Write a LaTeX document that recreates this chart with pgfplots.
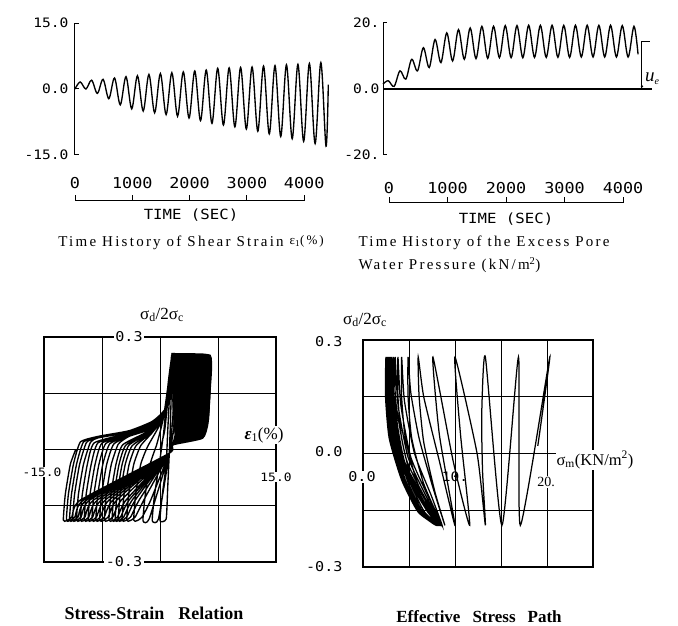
\documentclass[border=0pt]{standalone}
\usepackage{fontspec}
\setmainfont{Liberation Serif}
\newfontfamily\plotfont[FakeStretch=1.12]{DejaVu Sans Mono}
\newfontfamily\capfont[LetterSpace=15]{Liberation Serif}
\usepackage{pgfplots}
\pgfplotsset{compat=1.18}
\begin{document}
\begin{tikzpicture}
\useasboundingbox (0,0) rectangle (678pt,-626pt);

% ---------------- Panel 1: shear strain time history
\begin{axis}[at={(75pt,-23pt)}, anchor=north west, scale only axis,
  width=253.3pt, height=132pt, xmin=0, xmax=4420, ymin=-15, ymax=15,
  axis x line=none, axis y line=left, axis line style={-, line width=1pt},
  ytick={-15,0,15}, yticklabels={-15.0,0.0,15.0}, tick align=inside,
  major tick length=4pt, tick style={line width=1pt, black},
  yticklabel style={font=\plotfont\fontsize{13}{13}\selectfont, xshift=-3pt},
  clip=false]
\addplot[black, line width=1.35pt, smooth, tension=0.55] coordinates {
(0,0)(90,1.6)(190,0.0)(290,2.0)(390,-1.0)(490,2.2)(590,-2.2)(690,2.5)(790,-3.6)
(890,2.8)(990,-4.5)(1090,3.0)(1190,-5.0)(1290,3.3)(1390,-5.4)(1490,3.5)(1590,-5.8)
(1690,3.7)(1790,-6.2)(1890,3.9)(1990,-6.6)(2090,4.1)(2190,-7.2)(2290,4.3)(2390,-7.8)
(2490,4.7)(2590,-8.2)(2690,4.8)(2790,-8.6)(2890,4.9)(2990,-9.1)(3090,5.0)(3190,-9.6)
(3290,5.2)(3390,-10.2)(3490,5.3)(3590,-10.8)(3690,5.5)(3790,-11.3)(3890,5.6)(3990,-11.9)
(4090,5.8)(4190,-12.4)(4290,6.0)(4380,-13.0)(4420,1.0)};
\end{axis}

% ---------------- Panel 2: excess pore water pressure
\begin{axis}[at={(383pt,-23pt)}, anchor=north west, scale only axis,
  width=269.1pt, height=132pt, xmin=0, xmax=4600, ymin=-20, ymax=20,
  axis x line=none, axis y line=left, axis line style={-, line width=1pt},
  ytick={-20,0,20}, yticklabels={-20.,0.0,20.}, tick align=inside,
  major tick length=4pt, tick style={line width=1pt, black},
  yticklabel style={font=\plotfont\fontsize{13}{13}\selectfont},
  clip=false]
\addplot[black, line width=1.35pt, smooth, tension=0.55] coordinates {
(0,1.5)(90,2.5)(190,0.8)(290,5.5)(390,3.0)(490,9.0)(590,5.5)(690,12.5)(790,6.5)
(890,15.0)(990,8.0)(1090,17.0)(1190,8.5)(1290,18.0)(1390,9.0)(1490,18.5)(1590,9.2)
(1690,19.0)(1790,9.3)(1890,19.0)(1990,9.5)(2090,19.2)(2190,9.5)(2290,19.2)(2390,9.5)
(2490,19.3)(2590,9.6)(2690,19.3)(2790,9.6)(2890,19.3)(2990,9.6)(3090,19.3)(3190,9.6)
(3290,19.3)(3390,9.7)(3490,19.3)(3590,9.7)(3690,19.3)(3790,9.7)(3890,19.3)(3990,9.7)
(4090,19.2)(4190,9.7)(4290,19.0)(4360,10.5)};
\addplot[black, line width=1.1pt] coordinates {(0,0)(4600,0)};
\draw[line width=1pt] (axis cs:4427,0) -- (axis cs:4427,14.3) -- (axis cs:4564,14.3);
\fill (axis cs:4427,0.8) circle (1.3pt);
\end{axis}

% time scales (axis decorations)
\draw[line width=1pt] (75pt,-195pt) -- (75pt,-200pt) -- (304.2pt,-200pt) -- (304.2pt,-195pt);
\foreach \x in {132.3,189.6,246.9} \draw[line width=1pt] (\x pt,-200pt) -- (\x pt,-195pt);
\foreach \x/\l in {75/0,132.3/1000,189.6/2000,246.9/3000,304.2/4000}
  \node[font=\plotfont\fontsize{15}{15}\selectfont] at (\x pt,-183pt) {\l};
\draw[line width=1pt] (389pt,-197pt) -- (389pt,-202pt) -- (623pt,-202pt) -- (623pt,-197pt);
\foreach \x in {447.5,506,564.5} \draw[line width=1pt] (\x pt,-202pt) -- (\x pt,-197pt);
\foreach \x/\l in {389/0,447.5/1000,506/2000,564.5/3000,623/4000}
  \node[font=\plotfont\fontsize{15}{15}\selectfont] at (\x pt,-188pt) {\l};
\node[font=\plotfont\fontsize{14}{14}\selectfont] at (191pt,-215pt) {TIME (SEC)};
\node[font=\plotfont\fontsize{14}{14}\selectfont] at (506pt,-219pt) {TIME (SEC)};
\node[anchor=west, inner sep=0pt] at (645pt,-79pt) {\fontsize{19}{19}\selectfont\itshape u\raisebox{-3pt}{\fontsize{10}{10}\selectfont e}};

% captions top
\node[font=\capfont\fontsize{15}{15}\selectfont] at (191pt,-243pt)
  {Time History of Shear Strain \raisebox{2pt}{\fontsize{13}{13}\selectfont ε\textsubscript{1}(\%)}};
\node[font=\capfont\fontsize{15}{15}\selectfont, anchor=west] at (355pt,-243pt)
  {Time History of the Excess Pore};
\node[font=\capfont\fontsize{15}{15}\selectfont, anchor=west] at (355pt,-265pt)
  {Water Pressure  (kN/m\textsuperscript{2})};

% ---------------- Panel 3: stress-strain relation
\begin{axis}[at={(44pt,-337pt)}, anchor=north west, scale only axis,
  width=232pt, height=225pt, xmin=-15, xmax=15, ymin=-0.3, ymax=0.3,
  xtick={-7.5,0,7.5}, ytick={-0.15,0,0.15}, xticklabel=\empty, yticklabel=\empty,
  major tick length=0pt, grid=major, grid style={black, line width=0.75pt},
  axis line style={line width=1.4pt}, clip=false]
% dark core of the upper loops
\addplot[fill=black, draw=black, line width=0.6pt] coordinates {
(1.5,0.257)(6.5,0.252)(6.5,0.15)(6.3,0.08)(5.7,0.045)(4.5,0.03)(3.0,0.024)(2.1,0.024)
(1.75,0.06)(1.6,0.14)(1.5,0.2)} --cycle;
\addplot[black, line width=1.35pt, smooth, tension=0.3] coordinates {
(0,0)(0.6,0.05)(1.1,0.15)(1.5,0.25)
(1.45,0.15)(1.35,0.07)(1.2,-0.01)(1.0,-0.1)(0.8,-0.185)(0.0,-0.19)
(0.3,-0.12)(0.8,-0.04)(1.0,0.05)(1.3,0.17)(1.5,0.25)(1.9,0.25)
(1.85,0.15)(1.6,0.07)(1.2,-0.01)(-0.2,-0.185)(-1.0,-0.19)
(-0.7,-0.12)(-0.1,-0.04)(0.5,0.05)(1.05,0.175)(1.55,0.25)(2.2,0.25)
(2.15,0.15)(1.9,0.07)(1.5,0.02)(1.2,-0.01)(-1.4,-0.185)(-2.2,-0.19)
(-1.9,-0.12)(-1.3,-0.04)(-0.4,0.015)(0.44,0.084)(1.06,0.174)(1.57,0.25)(2.6,0.25)
(2.55,0.15)(2.3,0.07)(1.8,0.025)(1.2,-0.01)(-1.2,-0.135)(-2.3,-0.18)(-3.0,-0.19)(-3.4,-0.188)
(-3.15,-0.12)(-2.5,-0.04)(-1.6,0.008)(0.46,0.086)(1.08,0.176)(1.6,0.25)(3.0,0.25)
(2.95,0.15)(2.7,0.07)(2.0,0.03)(1.2,-0.01)(-2.1,-0.135)(-3.2,-0.18)(-3.9,-0.19)(-4.3,-0.188)
(-4.05,-0.12)(-3.4,-0.04)(-2.5,0.01)(-1.0,0.045)(0.47,0.087)(1.1,0.177)(1.62,0.25)(3.3,0.25)
(3.25,0.15)(3.0,0.07)(2.3,0.03)(1.6,0.012)(1.2,-0.01)(-2.7,-0.135)(-3.8,-0.18)(-4.5,-0.19)(-4.9,-0.188)
(-4.65,-0.12)(-4.0,-0.04)(-3.1,0.01)(-1,0.047)(0.49,0.089)(1.12,0.179)(1.65,0.25)(3.6,0.25)
(3.55,0.15)(3.3,0.07)(2.6,0.03)(1.6,0.012)(1.2,-0.01)(-3.2,-0.135)(-4.3,-0.18)(-5.0,-0.19)(-5.4,-0.188)
(-5.15,-0.12)(-4.5,-0.04)(-3.6,0.01)(-1,0.048)(0.5,0.09)(1.13,0.18)(1.67,0.25)(3.8,0.25)
(3.75,0.15)(3.5,0.07)(2.8,0.03)(1.6,0.012)(1.2,-0.01)(-3.6,-0.135)(-4.7,-0.18)(-5.4,-0.19)(-5.8,-0.188)
(-5.55,-0.12)(-4.9,-0.04)(-4.0,0.012)(-1,0.05)(0.51,0.091)(1.15,0.181)(1.69,0.25)(4.0,0.25)
(3.95,0.15)(3.7,0.07)(3.0,0.03)(1.6,0.012)(1.2,-0.01)(-4.0,-0.135)(-5.1,-0.18)(-5.8,-0.19)(-6.2,-0.188)
(-5.95,-0.12)(-5.3,-0.04)(-4.4,0.012)(-1,0.052)(0.53,0.093)(1.17,0.183)(1.71,0.25)(4.2,0.25)
(4.15,0.15)(3.9,0.07)(3.2,0.03)(1.6,0.012)(1.2,-0.01)(-4.4,-0.135)(-5.5,-0.18)(-6.2,-0.19)(-6.6,-0.188)
(-6.35,-0.12)(-5.7,-0.04)(-4.8,0.013)(-1,0.054)(0.54,0.094)(1.19,0.184)(1.74,0.25)(4.4,0.25)
(4.35,0.15)(4.1,0.07)(3.4,0.03)(1.6,0.012)(1.2,-0.01)(-5.0,-0.135)(-6.1,-0.18)(-6.8,-0.19)(-7.2,-0.188)
(-6.95,-0.12)(-6.3,-0.04)(-5.4,0.014)(-4,0.035)(-1,0.056)(0.56,0.096)(1.21,0.186)(1.76,0.25)(4.6,0.25)
(4.55,0.15)(4.3,0.07)(3.6,0.03)(1.6,0.012)(1.2,-0.01)(-5.6,-0.135)(-6.7,-0.18)(-7.4,-0.19)(-7.8,-0.188)
(-7.55,-0.12)(-6.9,-0.04)(-6.0,0.014)(-4,0.036)(-1,0.058)(0.57,0.097)(1.23,0.187)(1.79,0.25)(4.8,0.25)
(4.75,0.15)(4.5,0.07)(3.8,0.03)(1.6,0.012)(1.2,-0.01)(-6.1,-0.135)(-7.2,-0.18)(-7.9,-0.19)(-8.3,-0.188)
(-8.05,-0.12)(-7.4,-0.04)(-6.5,0.015)(-4,0.038)(-1,0.06)(0.59,0.099)(1.25,0.189)(1.81,0.25)(5.0,0.25)
(4.95,0.15)(4.7,0.07)(4.0,0.03)(1.6,0.012)(1.2,-0.01)(-6.6,-0.135)(-7.7,-0.18)(-8.4,-0.19)(-8.8,-0.188)
(-8.55,-0.12)(-7.9,-0.04)(-7.0,0.016)(-4,0.039)(-1,0.062)(0.6,0.1)(1.27,0.19)(1.84,0.25)(5.2,0.25)
(5.15,0.15)(4.9,0.07)(4.2,0.03)(1.6,0.012)(1.2,-0.01)(-7.1,-0.135)(-8.2,-0.18)(-8.9,-0.19)(-9.3,-0.188)
(-9.05,-0.12)(-8.4,-0.04)(-7.5,0.017)(-4,0.041)(-1,0.063)(0.61,0.101)(1.28,0.191)(1.86,0.25)(5.4,0.25)
(5.35,0.15)(5.1,0.07)(4.4,0.03)(1.6,0.012)(1.2,-0.01)(-7.6,-0.135)(-8.7,-0.18)(-9.4,-0.19)(-9.8,-0.188)
(-9.55,-0.12)(-8.9,-0.04)(-8.0,0.018)(-4,0.042)(-1,0.065)(0.63,0.103)(1.3,0.193)(1.88,0.25)(5.6,0.25)
(5.55,0.15)(5.3,0.07)(4.6,0.03)(1.6,0.012)(1.2,-0.01)(-8.1,-0.135)(-9.2,-0.18)(-9.9,-0.19)(-10.3,-0.188)
(-10.05,-0.12)(-9.4,-0.04)(-8.5,0.018)(-4,0.044)(-1,0.067)(0.64,0.104)(1.32,0.194)(1.9,0.25)(5.8,0.25)
(5.75,0.15)(5.5,0.07)(4.8,0.03)(1.6,0.012)(1.2,-0.01)(-8.6,-0.135)(-9.7,-0.18)(-10.4,-0.19)(-10.8,-0.188)
(-10.55,-0.12)(-9.9,-0.04)(-9.0,0.019)(-8,0.031)(-4,0.046)(-1,0.069)(0.66,0.106)(1.34,0.196)(1.93,0.25)(5.95,0.25)
(5.9,0.15)(5.65,0.07)(4.95,0.03)(1.6,0.012)(1.2,-0.01)(-9.1,-0.135)(-10.2,-0.18)(-10.9,-0.19)(-11.3,-0.188)
(-11.05,-0.12)(-10.4,-0.04)(-9.5,0.019)(-8,0.032)(-4,0.047)(-1,0.071)(0.67,0.107)(1.36,0.197)(1.95,0.25)(6.1,0.25)
(6.05,0.15)(5.8,0.07)(5.1,0.03)(1.6,0.012)(1.2,-0.01)(-9.5,-0.135)(-10.6,-0.18)(-11.3,-0.19)(-11.7,-0.188)
(-11.45,-0.12)(-10.8,-0.04)(-9.9,0.02)(-8,0.034)(-4,0.048)(-1,0.073)(0.69,0.109)(1.38,0.199)(1.98,0.25)(6.3,0.25)
(6.25,0.15)(6.0,0.07)(5.3,0.03)(1.6,0.012)(1.2,-0.01)(-9.9,-0.135)(-11.0,-0.18)(-11.7,-0.19)(-12.1,-0.188)
(-11.85,-0.12)(-11.2,-0.04)(-10.3,0.02)(-8,0.035)(-4,0.05)(-1,0.075)(0.7,0.11)(1.4,0.2)(2.0,0.25)(6.5,0.25)
(6.45,0.15)(6.2,0.07)(5.5,0.03)(1.6,0.012)(1.2,-0.01)(-10.3,-0.135)(-11.4,-0.18)(-12.1,-0.19)(-12.5,-0.188)
(-12.25,-0.12)(-11.6,-0.04)(-10.9,0.0)};
\end{axis}

% ---------------- Panel 4: effective stress path
\node[font=\plotfont\fontsize{13}{13}\selectfont] at (455pt,-477pt) {10.};
\begin{axis}[at={(363pt,-340pt)}, anchor=north west, scale only axis,
  width=230pt, height=227pt, xmin=0, xmax=25, ymin=-0.3, ymax=0.3,
  xtick={5,10,15,20}, ytick={-0.15,0,0.15}, xticklabel=\empty, yticklabel=\empty,
  major tick length=0pt, grid=major, grid style={black, line width=0.75pt},
  axis line style={line width=1.4pt}, clip=false]
\addplot[black, line width=1.25pt, smooth, tension=0.35] coordinates {
(19.0,0.02)(20.3,0.255)
(17.1,-0.19)
(16.9,0.255)
(15.1,-0.19)
(13.3,0.255)
(12.9,0.10)(13.0,-0.05)(13.3,-0.19)
(12.4,0.0)(10.0,0.255)
(10.6,0.05)(11.6,-0.19)
(9.8,-0.02)(7.6,0.255)
(8.3,0.05)(10.0,-0.19)
(8.3,-0.02)(6.6,0.15)(6.0,0.255)
(6.1,0.15)(6.6,0.03)(7.8,-0.1)(8.9,-0.19)
(7.6,-0.09)(6.1,0.04)(5.2,0.16)(4.9,0.255)
(4.9,0.15)(5.3,0.04)(6.6,-0.08)(8.6,-0.19)
(7.4,-0.11)(5.6,0.0)(4.5,0.14)(4.2,0.255)
(4.2,0.15)(4.6,0.04)(5.8,-0.07)(7.3,-0.15)(8.5,-0.19)
(7.2,-0.12)(5.2,-0.01)(4.1,0.13)(3.8,0.255)
(3.8,0.15)(4.2,0.04)(5.3,-0.07)(6.9,-0.15)(8.4,-0.19)
(7.0,-0.12)(4.9,-0.01)(3.8,0.13)(3.5,0.255)
(3.5,0.15)(3.9,0.04)(5.0,-0.07)(6.7,-0.155)(8.4,-0.19)
(6.9,-0.125)(4.7,-0.015)(3.6,0.13)(3.3,0.255)
(3.3,0.15)(3.7,0.04)(4.8,-0.07)(6.5,-0.155)(8.3,-0.19)
(6.8,-0.125)(4.5,-0.02)(3.4,0.13)(3.1,0.255)
(3.1,0.15)(3.5,0.04)(4.6,-0.07)(6.4,-0.155)(8.3,-0.19)
(6.7,-0.13)(4.4,-0.02)(3.3,0.13)(3.0,0.255)
(3.0,0.15)(3.4,0.04)(4.5,-0.07)(6.3,-0.155)(8.2,-0.19)
(6.6,-0.13)(4.3,-0.02)(3.2,0.13)(2.9,0.255)
(2.9,0.15)(3.3,0.04)(4.4,-0.07)(6.3,-0.155)(8.2,-0.19)
(6.6,-0.13)(4.2,-0.02)(3.1,0.13)(2.8,0.255)
(2.8,0.15)(3.2,0.04)(4.4,-0.07)(6.2,-0.155)(8.2,-0.19)
(6.5,-0.13)(4.1,-0.02)(3.0,0.13)(2.7,0.255)
(2.7,0.15)(3.1,0.04)(4.3,-0.07)(6.2,-0.155)(8.1,-0.19)
(6.5,-0.13)(4.0,-0.02)(2.9,0.13)(2.6,0.255)
(2.6,0.15)(3.0,0.04)(4.3,-0.07)(6.1,-0.155)(8.1,-0.19)
(6.4,-0.13)(3.9,-0.02)(2.8,0.13)(2.5,0.255)
(2.5,0.15)(2.9,0.04)(4.2,-0.07)(6.1,-0.155)(8.0,-0.19)
(6.4,-0.13)(3.9,-0.02)(2.8,0.13)(2.5,0.255)
(2.45,0.15)(2.85,0.04)(4.2,-0.07)(6.0,-0.155)(8.0,-0.19)};
\end{axis}

% labels bottom-left
\node[font=\fontsize{17}{17}\selectfont] at (162pt,-315pt) {σ\textsubscript{d}/2σ\textsubscript{c}};
\node[font=\plotfont\fontsize{13.5}{13.5}\selectfont, fill=white, inner sep=1.5pt] at (129pt,-337pt) {0.3};
\node[font=\plotfont\fontsize{13.5}{13.5}\selectfont, fill=white, inner sep=1.5pt] at (124pt,-562pt) {-0.3};
\node[font=\plotfont\fontsize{11.5}{11.5}\selectfont, fill=white, inner sep=1pt] at (42pt,-472pt) {-15.0};
\node[font=\plotfont\fontsize{11.5}{11.5}\selectfont, fill=white, inner sep=1pt] at (276pt,-477pt) {15.0};
\node[font=\fontsize{17}{17}\selectfont, fill=white, inner sep=1pt] at (264pt,-435pt) {\textbf{\textit{ε}}\textsubscript{1}(\%)};
% labels bottom-right
\node[font=\fontsize{17}{17}\selectfont] at (365pt,-320pt) {σ\textsubscript{d}/2σ\textsubscript{c}};
\node[font=\plotfont\fontsize{13.5}{13.5}\selectfont, anchor=east] at (346pt,-342pt) {0.3};
\node[font=\plotfont\fontsize{13.5}{13.5}\selectfont, anchor=east] at (346pt,-452pt) {0.0};
\node[font=\plotfont\fontsize{13.5}{13.5}\selectfont, anchor=east] at (346pt,-567pt) {-0.3};
\node[font=\plotfont\fontsize{13.5}{13.5}\selectfont, fill=white, inner sep=1pt] at (362pt,-477pt) {0.0};
\node[font=\fontsize{14}{14}\selectfont, fill=white, inner sep=1pt] at (546pt,-482pt) {20.};
\node[font=\fontsize{16.5}{16.5}\selectfont, fill=white, inner sep=1pt] at (595pt,-460pt) {σ\textsubscript{m}(KN/m\textsuperscript{2})};

% captions bottom
\node[font=\bfseries\fontsize{18}{18}\selectfont] at (154pt,-613pt) {Stress-Strain\hspace{14pt}Relation};
\node[font=\bfseries\fontsize{17}{17}\selectfont] at (479pt,-617pt) {Effective\hspace{12pt}Stress\hspace{12pt}Path};
\end{tikzpicture}
\end{document}
